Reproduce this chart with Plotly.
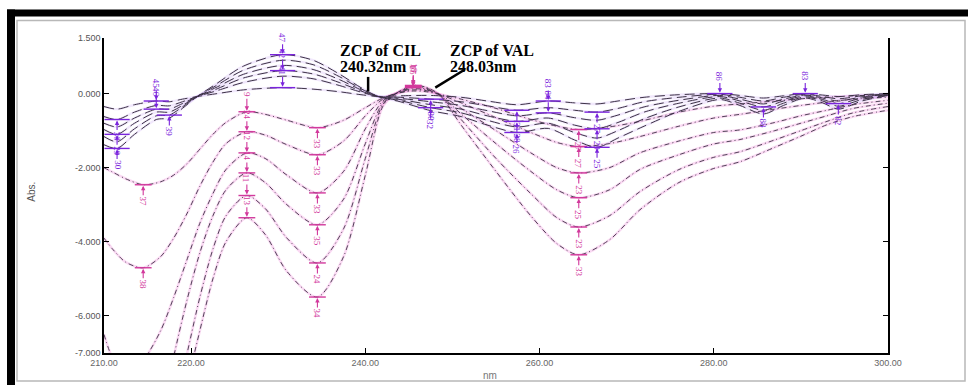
import plotly.graph_objects as go

# ---- first-derivative spectra, CIL series (dashed) ----
wl_cil = [210, 211.5, 213.5, 216, 217.5, 219, 220.7, 223, 226, 230.5,
          234, 237, 239.5, 241.5, 244, 247.5, 251, 254, 257.4, 261,
          264, 266.6, 269, 272, 276, 280.7, 283, 285.7, 288, 290.5,
          292.5, 294.3, 297, 300]
cil_1 = [-0.35, -0.42, -0.30, -0.20, -0.22, -0.15, -0.08, 0.00, 0.10, 0.16,
         0.12, 0.05, -0.03, -0.08, -0.06, -0.05, -0.10, -0.20, -0.30, -0.20,
         -0.25, -0.28, -0.20, -0.10, -0.03, 0.00, -0.05, -0.12, -0.06, 0.00,
         -0.04, -0.08, -0.03, 0.00]
cil_2 = [-0.62, -0.70, -0.50, -0.32, -0.33, -0.22, -0.08, 0.08, 0.30, 0.47,
         0.40, 0.22, 0.04, -0.08, -0.10, -0.15, -0.22, -0.33, -0.45, -0.38,
         -0.45, -0.50, -0.40, -0.22, -0.10, -0.02, -0.10, -0.20, -0.10, -0.02,
         -0.08, -0.14, -0.06, -0.01]
cil_3 = [-0.80, -0.90, -0.66, -0.42, -0.42, -0.27, -0.08, 0.13, 0.42, 0.62,
         0.53, 0.30, 0.07, -0.08, -0.13, -0.22, -0.32, -0.46, -0.60, -0.52,
         -0.65, -0.72, -0.58, -0.36, -0.18, -0.05, -0.15, -0.28, -0.15, -0.04,
         -0.12, -0.20, -0.09, -0.02]
cil_4 = [-0.97, -1.10, -0.80, -0.50, -0.50, -0.32, -0.08, 0.18, 0.52, 0.76,
         0.65, 0.38, 0.10, -0.08, -0.16, -0.30, -0.42, -0.60, -0.75, -0.66,
         -0.85, -0.95, -0.78, -0.50, -0.26, -0.08, -0.20, -0.36, -0.20, -0.06,
         -0.16, -0.27, -0.12, -0.03]
cil_5 = [-1.16, -1.30, -0.95, -0.60, -0.58, -0.36, -0.08, 0.23, 0.63, 0.90,
         0.78, 0.46, 0.13, -0.08, -0.19, -0.38, -0.52, -0.72, -0.90, -0.80,
         -1.05, -1.20, -1.00, -0.68, -0.36, -0.12, -0.26, -0.45, -0.26, -0.09,
         -0.20, -0.34, -0.16, -0.04]
cil_6 = [-1.38, -1.48, -1.10, -0.70, -0.66, -0.40, -0.08, 0.28, 0.74, 1.05,
         0.90, 0.53, 0.16, -0.08, -0.22, -0.46, -0.62, -0.85, -1.05, -0.94,
         -1.25, -1.45, -1.20, -0.88, -0.48, -0.16, -0.32, -0.55, -0.32, -0.12,
         -0.25, -0.42, -0.20, -0.05]
cil_curves = [cil_1, cil_2, cil_3, cil_4, cil_5, cil_6]

# ---- first-derivative spectra, VAL series (dash-dot) ----
wl_val = [210, 211, 212.5, 214.5, 216.5, 218, 219.5, 221, 222.5, 224,
          226.4, 228.5, 231, 234.5, 237.5, 240, 242, 243.5, 245.5, 247,
          248.5, 251, 255, 259, 262, 264.5, 268, 271.5, 276, 280,
          283, 287, 290, 293, 296, 300]
val_1 = [-2.00, -2.12, -2.30, -2.46, -2.38, -2.20, -1.90, -1.50, -1.10, -0.78,
         -0.49, -0.56, -0.72, -0.92, -0.72, -0.38, -0.12, 0.00, 0.07, 0.05,
         -0.02, -0.15, -0.40, -0.70, -0.88, -0.97, -0.90, -0.75, -0.50, -0.34,
         -0.28, -0.20, -0.14, -0.10, -0.06, -0.04]
val_2 = [-3.90, -4.20, -4.55, -4.70, -4.40, -3.90, -3.25, -2.50, -1.85, -1.35,
         -1.03, -1.12, -1.38, -1.65, -1.28, -0.60, -0.15, 0.00, 0.10, 0.08,
         -0.02, -0.25, -0.65, -1.05, -1.32, -1.43, -1.35, -1.16, -0.88, -0.66,
         -0.56, -0.42, -0.32, -0.23, -0.15, -0.10]
val_3 = [-6.50, -7.15, -7.60, -7.20, -6.40, -5.50, -4.50, -3.50, -2.70, -2.05,
         -1.60, -1.75, -2.20, -2.68, -2.10, -0.95, -0.20, 0.00, 0.13, 0.10,
         -0.02, -0.40, -1.00, -1.60, -2.00, -2.14, -2.00, -1.60, -1.28, -1.05,
         -0.98, -0.78, -0.60, -0.45, -0.30, -0.18]
val_4 = [-12.0, -12.0, -11.5, -10.5, -8.80, -7.10, -5.60, -4.30, -3.30, -2.60,
         -2.14, -2.40, -3.00, -3.54, -2.85, -1.35, -0.25, 0.00, 0.16, 0.12,
         -0.03, -0.55, -1.35, -2.10, -2.60, -2.81, -2.60, -2.05, -1.65, -1.36,
         -1.24, -1.00, -0.80, -0.60, -0.40, -0.26]
val_5 = [-13.0, -13.0, -12.8, -12.0, -10.3, -8.60, -7.05, -5.50, -4.20, -3.30,
         -2.75, -3.10, -3.90, -4.57, -3.65, -1.75, -0.30, 0.00, 0.19, 0.15,
         -0.03, -0.70, -1.75, -2.70, -3.35, -3.60, -3.30, -2.65, -2.05, -1.72,
         -1.57, -1.25, -1.00, -0.75, -0.52, -0.35]
val_6 = [-14.0, -14.0, -13.8, -13.0, -11.5, -9.60, -7.90, -6.40, -5.00, -4.00,
         -3.35, -3.80, -4.80, -5.49, -4.40, -2.20, -0.35, 0.00, 0.22, 0.17,
         -0.03, -0.85, -2.10, -3.30, -4.05, -4.35, -3.95, -3.14, -2.40, -2.02,
         -1.84, -1.45, -1.15, -0.84, -0.62, -0.45]
val_curves = [val_1, val_2, val_3, val_4, val_5, val_6]

# peak tags: (curve index, wavelength, tag text, tag above?)
val_tags = [
    (0, 214.5, "37", False), (1, 214.5, "38", False),
    (0, 226.4, "9", True), (1, 226.4, "24", True), (2, 226.4, "12", True),
    (3, 226.4, "14", True), (4, 226.4, "11", True), (5, 226.4, "13", True),
    (0, 234.5, "33", False), (1, 234.5, "33", False), (2, 234.5, "33", False),
    (3, 234.5, "35", False), (4, 234.5, "24", False), (5, 234.5, "34", False),
    (3, 245.5, "16", True), (4, 245.5, "17", True), (5, 245.5, "18", True),
    (0, 264.5, "27", False), (1, 264.5, "27", False), (2, 264.5, "23", False),
    (3, 264.5, "25", False), (4, 264.5, "23", False), (5, 264.5, "33", False),
]
cil_tags = [
    (1, 211.5, "36", False), (3, 211.5, "29", False), (5, 211.5, "30", False),
    (0, 216, "45", True), (2, 216, "46", True), (4, 217.5, "39", False),
    (0, 230.5, "41", True), (2, 230.5, "42", True), (5, 230.5, "47", True),
    (1, 247.5, "30", False), (4, 247.5, "32", False),
    (1, 257.4, "31", False), (3, 257.4, "28", False), (5, 257.4, "26", False),
    (0, 261, "83", True), (2, 261, "84", True),
    (1, 266.6, "27", False), (3, 266.6, "29", False), (5, 266.6, "25", False),
    (0, 280.7, "86", True), (3, 285.7, "88", False),
    (0, 290.5, "83", True), (3, 294.3, "82", False),
]

zcp_cil = 240.32
zcp_val = 248.03

y_ticks = [1.5, 0.0, -2.0, -4.0, -6.0, -7.0]
y_text = ["1.500", "0.000", "-2.000", "-4.000", "-6.000", "-7.000"]
x_ticks = [210, 220, 240, 260, 280, 300]
x_text = ["210.00", "220.00", "240.00", "260.00", "280.00", "300.00"]

LINE = "#3d3346"
PINK = "#d2399c"
VIOLET = "#7a24dc"

fig = go.Figure()

# faint coloured halo under each curve, then the dashed trace itself
for vals in val_curves:
    fig.add_trace(go.Scatter(x=wl_val, y=vals, mode="lines", hoverinfo="skip",
                             line=dict(color="rgba(240,130,215,0.30)", width=2.6,
                                       shape="spline", smoothing=0.8)))
for vals in cil_curves:
    fig.add_trace(go.Scatter(x=wl_cil, y=vals, mode="lines", hoverinfo="skip",
                             line=dict(color="rgba(190,150,240,0.22)", width=2.4,
                                       shape="spline", smoothing=0.8)))
for vals in val_curves:
    fig.add_trace(go.Scatter(x=wl_val, y=vals, mode="lines",
                             line=dict(color=LINE, width=0.9, dash="5px,3px,1px,3px",
                                       shape="spline", smoothing=0.8)))
for vals in cil_curves:
    fig.add_trace(go.Scatter(x=wl_cil, y=vals, mode="lines",
                             line=dict(color=LINE, width=1.0, dash="10px,5px",
                                       shape="spline", smoothing=0.8)))

# short bars marking each tagged extremum
for tags, grid, curves, col, size in ((val_tags, wl_val, val_curves, PINK, 12),
                                      (cil_tags, wl_cil, cil_curves, VIOLET, 18)):
    bx = [w for c, w, t, up in tags]
    by = [curves[c][grid.index(w)] for c, w, t, up in tags]
    fig.add_trace(go.Scatter(x=bx, y=by, mode="markers", hoverinfo="skip",
                             marker=dict(symbol="line-ew", size=size,
                                         line=dict(color=col, width=1.4))))

def tag(x, y, text, color, up, dist=17):
    fig.add_annotation(x=x, y=y, text=text, textangle=90, showarrow=True,
                       arrowhead=2, arrowsize=0.8, arrowwidth=1.1, arrowcolor=color,
                       ax=0, ay=-dist if up else dist, standoff=1,
                       font=dict(size=9, color=color, family="Liberation Serif"))

for c, w, t, up in val_tags:
    tag(w, val_curves[c][wl_val.index(w)], t, PINK, up)
for c, w, t, up in cil_tags:
    tag(w, cil_curves[c][wl_cil.index(w)], t, VIOLET, up)

# zero-crossing callouts
fig.add_shape(type="line", x0=zcp_cil, x1=zcp_cil, y0=0.06, y1=0.45,
              line=dict(color="black", width=2.5))
fig.add_shape(type="line", x0=zcp_val, x1=zcp_val + 3.4, y0=0.16, y1=0.65,
              line=dict(color="black", width=2.5))
for xpx, lines in ((338, ("ZCP of CIL", "240.32nm")), (448, ("ZCP of VAL", "248.03nm"))):
    for i, s in enumerate(lines):
        fig.add_annotation(x=(xpx - 104) / 784, y=(353 - (40 + 16 * i)) / 314.5,
                           xref="paper", yref="paper", xanchor="left", yanchor="top",
                           showarrow=False, text="<b>%s</b>" % s,
                           font=dict(family="Liberation Serif", size=16, color="black"))

# axis titles
fig.add_annotation(x=(32 - 104) / 784, y=(353 - 192) / 314.5, xref="paper", yref="paper",
                   xanchor="center", yanchor="middle",
                   text="Abs.", textangle=-90, showarrow=False,
                   font=dict(family="Liberation Sans", size=10, color="#555"))
fig.add_annotation(x=(490 - 104) / 784, y=(353 - 375) / 314.5, xref="paper", yref="paper",
                   xanchor="center", yanchor="middle",
                   text="nm", showarrow=False,
                   font=dict(family="Liberation Sans", size=10, color="#777"))

# outer frame: thick black band on top/left, thin grey inner border
def px(xp):
    return (xp - 104) / 784

def py(yp):
    return (353 - yp) / 314.5

fig.add_shape(type="rect", xref="paper", yref="paper", x0=px(7), x1=px(968), y0=py(17), y1=py(10),
              fillcolor="black", line=dict(width=0), layer="above")
fig.add_shape(type="rect", xref="paper", yref="paper", x0=px(7), x1=px(15), y0=py(390), y1=py(10),
              fillcolor="black", line=dict(width=0), layer="above")
fig.add_shape(type="rect", xref="paper", yref="paper", x0=px(17), x1=px(965), y0=py(381), y1=py(21),
              fillcolor="rgba(0,0,0,0)", line=dict(color="#b8b8b8", width=1.5), layer="above")

fig.update_layout(
    width=968, height=385,
    margin=dict(l=104, r=80, t=38, b=32),
    paper_bgcolor="white", plot_bgcolor="white",
    showlegend=False,
    xaxis=dict(range=[210, 300], tickvals=x_ticks, ticktext=x_text,
               showgrid=False, zeroline=False, showline=True, linecolor="black", linewidth=1.5,
               ticks="inside", ticklen=5, tickcolor="black",
               tickfont=dict(family="Liberation Sans", size=9, color="#666")),
    yaxis=dict(range=[-7, 1.5], tickvals=y_ticks, ticktext=y_text,
               showgrid=False, zeroline=False, showline=True, linecolor="black", linewidth=1.5,
               mirror="ticks", ticks="inside", ticklen=5, tickcolor="black",
               tickfont=dict(family="Liberation Sans", size=9, color="#555")),
)

fig.write_html("out.html")
